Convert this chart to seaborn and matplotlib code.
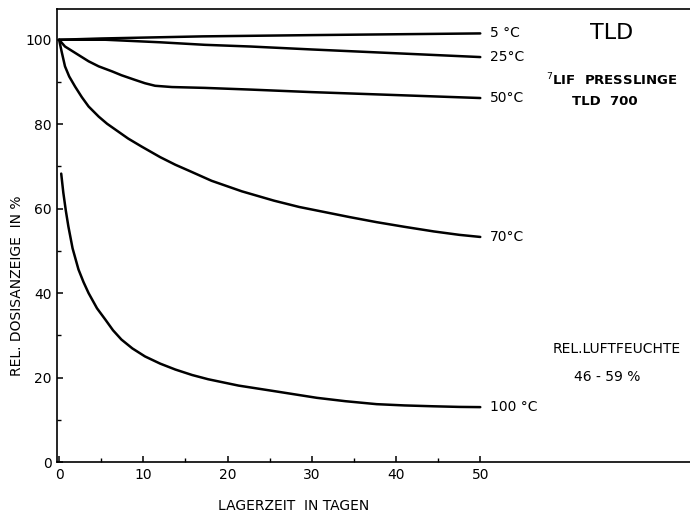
import pandas as pd
import numpy as np
import matplotlib
matplotlib.use("Agg")
import matplotlib.pyplot as plt
import seaborn as sns

# values (days, relative reading in %)
days_5 = [0, 5, 17, 30, 40, 50]
vals_5 = [100.0, 100.3, 100.8, 101.1, 101.3, 101.5]

days_25 = [0, 5.5, 12, 17.3, 22.7, 30, 40, 50]
vals_25 = [100.0, 100.0, 99.4, 98.8, 98.4, 97.7, 96.8, 95.9]

days_50 = [0, 0.7, 1.9, 3.5, 4.7, 6.3, 7.4, 9.0, 10.2, 11.4, 13.4, 17.3, 22.7, 30, 40, 50]
vals_50 = [100.0, 98.4, 96.9, 94.9, 93.7, 92.5, 91.6, 90.5, 89.7, 89.1, 88.8, 88.6, 88.2, 87.6, 86.9, 86.2]

days_70 = [0, 0.3, 0.7, 1.2, 1.9, 2.7, 3.5, 4.7, 5.7, 6.7, 8.2, 9.8, 12.0, 13.8, 15.4,
           18.1, 21.7, 25.5, 28.5, 31.0, 34.5, 37.7, 41.0, 44.5, 47.5, 50]
vals_70 = [100.0, 97.2, 93.7, 91.3, 88.9, 86.4, 84.2, 81.8, 80.1, 78.7, 76.6, 74.7, 72.2, 70.4, 69.0,
           66.6, 64.1, 61.9, 60.4, 59.4, 58.0, 56.8, 55.7, 54.6, 53.8, 53.3]

days_100 = [0.25, 0.5, 0.8, 1.1, 1.6, 2.3, 2.9, 3.5, 4.5, 5.5, 6.4, 7.4, 8.7, 10.2, 12.0, 13.8,
            15.8, 17.7, 21.3, 25.5, 30.6, 34.0, 37.7, 41.0, 44.4, 47.5, 50]
vals_100 = [68.3, 63.8, 59.5, 55.8, 50.6, 45.6, 42.6, 40.0, 36.4, 33.7, 31.2, 29.0, 26.9, 25.0, 23.3, 21.9,
            20.6, 19.6, 18.1, 16.8, 15.2, 14.4, 13.7, 13.4, 13.2, 13.05, 13.0]

curve_labels = ["5 \u00b0C", "25\u00b0C", "50\u00b0C", "70\u00b0C", "100 \u00b0C"]

frames = []
for lab, d, v in zip(curve_labels,
                     [days_5, days_25, days_50, days_70, days_100],
                     [vals_5, vals_25, vals_50, vals_70, vals_100]):
    frames.append(pd.DataFrame({"tage": d, "anzeige": v, "temp": lab}))
df = pd.concat(frames, ignore_index=True)

sns.set_style("ticks")
plt.rcParams['font.family'] = ['DejaVu Sans']
plt.rcParams['text.color'] = 'black'
plt.rcParams['xtick.color'] = 'black'
plt.rcParams['ytick.color'] = 'black'

fig = plt.figure(figsize=(6.9, 5.19), dpi=100)
ax = fig.add_axes([0.0826, 0.1098, 0.9174, 0.873])

sns.lineplot(data=df, x="tage", y="anzeige", hue="temp", units="temp",
             estimator=None, sort=False, palette=["black"] * 5,
             linewidth=1.8, legend=False, ax=ax)

ax.set_xlim(-0.25, 74.9)
ax.set_ylim(0, 107.3)
ax.set_xticks([0, 10, 20, 30, 40, 50])
ax.set_xticks([5, 15, 25, 35, 45], minor=True)
ax.set_yticks([0, 20, 40, 60, 80, 100])
ax.set_yticks([10, 30, 50, 70, 90], minor=True)
ax.tick_params(which="major", direction="in", length=4, width=1.1,
               labelsize=10, pad=4, color="black", labelcolor="black")
ax.tick_params(which="minor", direction="in", length=3, width=1.0, color="black")
for s in ["left", "bottom", "top"]:
    ax.spines[s].set_linewidth(1.2)
    ax.spines[s].set_color("black")
ax.spines["right"].set_visible(False)
ax.set_xlabel("")
ax.set_ylabel("")

# labels at the curve ends
end_vals = [vals_5[-1], vals_25[-1], vals_50[-1], vals_70[-1], vals_100[-1]]
for lab, yv in zip(curve_labels, end_vals):
    ax.text(51.2, yv, lab, fontsize=10, va="center", ha="left")

fig.text(0.425, 0.025, "LAGERZEIT  IN TAGEN", fontsize=10, ha="center", va="center")
fig.text(0.025, 0.45, "REL. DOSISANZEIGE  IN %", fontsize=10, rotation=90,
         ha="center", va="center")

fig.text(0.887, 0.936, "TLD", fontsize=16, ha="center", va="center")
fig.text(0.887, 0.846, "$^{7}$LIF  PRESSLINGE", fontsize=9.5, ha="center",
         va="center", fontweight="bold")
fig.text(0.877, 0.805, "TLD  700", fontsize=9.5, ha="center", va="center",
         fontweight="bold")
fig.text(0.894, 0.328, "REL.LUFTFEUCHTE", fontsize=10, ha="center", va="center")
fig.text(0.880, 0.274, "46 - 59 %", fontsize=10, ha="center", va="center")

fig.savefig("out.png", dpi=100, facecolor="white")
